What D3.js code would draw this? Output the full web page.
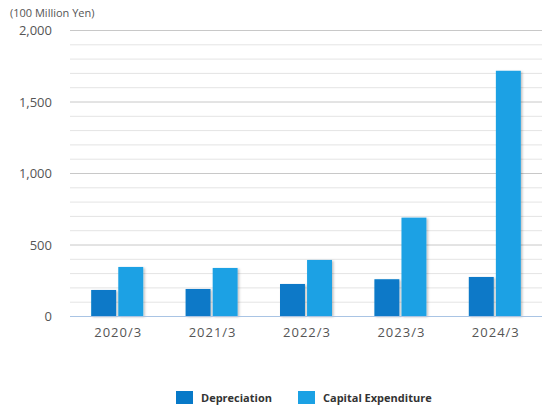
<!DOCTYPE html>
<html>
<head>
<meta charset="utf-8">
<script src="https://cdn.jsdelivr.net/npm/d3@7"></script>
<style>
  body { margin: 0; background: #fff; }
  svg { font-family: "Open Sans", "Noto Sans", sans-serif; }
</style>
</head>
<body>
<div id="chart"></div>
<script>
// data
var years = ["2020/3", "2021/3", "2022/3", "2023/3", "2024/3"];
var depreciation = [182, 189, 224, 257, 273];
var capex = [343, 336, 392, 688, 1715];
var seriesNames = ["Depreciation", "Capital Expenditure"];
var yTicks = [0, 500, 1000, 1500, 2000];

var w = 542, h = 407;
var plotLeft = 70, plotRight = 542, plotTop = 30, plotBottom = 316;
var colors = ["#0779c8", "#1ba1e4"];

var svg = d3.select("#chart").append("svg")
    .attr("width", w)
    .attr("height", h);

var defs = svg.append("defs");
var f = defs.append("filter").attr("id", "shadow")
    .attr("x", "-20%").attr("y", "-10%").attr("width", "150%").attr("height", "130%");
f.append("feDropShadow")
    .attr("dx", 1.5).attr("dy", 1).attr("stdDeviation", 1)
    .attr("flood-color", "#000").attr("flood-opacity", 0.25);

var y = d3.scaleLinear().domain([0, 2000]).range([plotBottom, plotTop]);
var x = d3.scaleBand().domain(years).range([plotLeft, plotRight]);
var xs = d3.scaleBand().domain([0, 1]).range([0, 52]).paddingInner(0.08);

// gridlines, minor every 100
var minor = d3.range(100, 2001, 100).filter(function (v) { return v % 500 != 0; });
svg.append("g").selectAll("line")
    .data(minor).enter().append("line")
    .attr("x1", plotLeft).attr("x2", plotRight)
    .attr("y1", function (d) { return y(d) + 0.5; })
    .attr("y2", function (d) { return y(d) + 0.5; })
    .style("stroke", "#e4e4e4").style("stroke-width", 1);

svg.append("g").selectAll("line")
    .data(yTicks.filter(function (d) { return d > 0; })).enter().append("line")
    .attr("x1", plotLeft).attr("x2", plotRight)
    .attr("y1", function (d) { return y(d) + 0.5; })
    .attr("y2", function (d) { return y(d) + 0.5; })
    .style("stroke", "#c8c8c8").style("stroke-width", 1);

// y labels
svg.append("g").selectAll("text")
    .data(yTicks).enter().append("text")
    .attr("x", 52)
    .attr("y", function (d) { return y(d) + 5; })
    .attr("text-anchor", "end")
    .style("font-size", "13px")
    .style("fill", "#555")
    .text(d3.format(","));

svg.append("text")
    .attr("x", 10).attr("y", 17)
    .style("font-size", "11px")
    .style("fill", "#555")
    .text("(100 Million Yen)");

// bars
var groups = svg.append("g").selectAll("g")
    .data(years).enter().append("g")
    .attr("transform", function (d) { return "translate(" + (x(d) + x.bandwidth() / 2 - 26) + ",0)"; });

[depreciation, capex].forEach(function (vals, si) {
    groups.append("rect")
        .attr("x", xs(si))
        .attr("width", xs.bandwidth())
        .attr("y", function (d, i) { return y(vals[i]); })
        .attr("height", function (d, i) { return plotBottom - y(vals[i]); })
        .attr("fill", colors[si])
        .attr("filter", "url(#shadow)");
});

// baseline
svg.append("line")
    .attr("x1", plotLeft).attr("x2", plotRight)
    .attr("y1", plotBottom + 0.5).attr("y2", plotBottom + 0.5)
    .style("stroke", "#a9c4e4").style("stroke-width", 1);

// x labels
svg.append("g").selectAll("text")
    .data(years).enter().append("text")
    .attr("x", function (d) { return x(d) + x.bandwidth() / 2 + 1; })
    .attr("y", 337)
    .attr("text-anchor", "middle")
    .style("font-size", "13px")
    .style("fill", "#555")
    .style("letter-spacing", "1px")
    .text(function (d) { return d; });

// legend
var legX = [176, 298];
var leg = svg.append("g").selectAll("g")
    .data(seriesNames).enter().append("g")
    .attr("transform", function (d, i) { return "translate(" + legX[i] + ",391)"; });
leg.append("rect")
    .attr("width", 17).attr("height", 13)
    .attr("fill", function (d, i) { return colors[i]; });
leg.append("text")
    .attr("x", 25).attr("y", 11)
    .style("font-size", "11px")
    .style("font-weight", "bold")
    .style("fill", "#333")
    .text(function (d) { return d; });
</script>
</body>
</html>
